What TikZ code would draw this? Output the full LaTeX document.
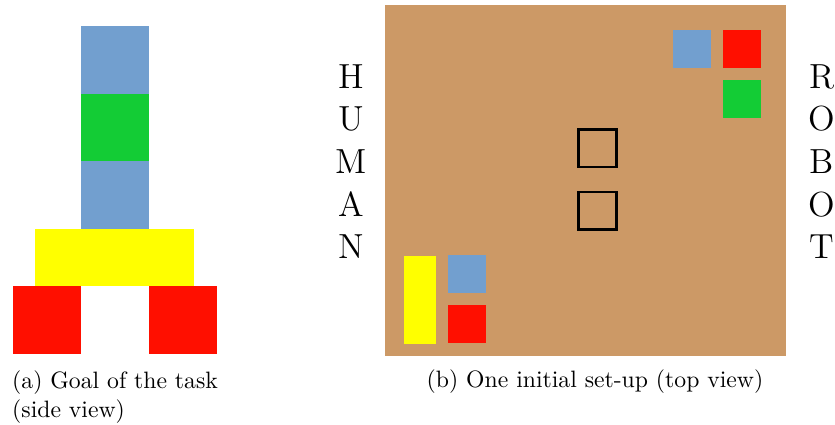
\documentclass[tikz,border=0pt]{standalone}
\begin{document}
\begin{tikzpicture}[x=1pt,y=-1pt,
  capt/.style={inner sep=0pt},
  side/.style={inner sep=0pt,anchor=base}]
\newcommand{\capscl}[1]{\scalebox{2.37}{\fontsize{10}{12}\selectfont #1}}
\newcommand{\sidescl}[1]{\scalebox{2.42}{\fontsize{14.4}{17}\selectfont #1}}
\definecolor{cblue}{RGB}{114,159,207}
\definecolor{cgreen}{RGB}{19,204,53}
\definecolor{cred}{RGB}{255,15,0}
\definecolor{cyellow}{RGB}{255,255,0}
\definecolor{cbrown}{RGB}{204,153,102}
\useasboundingbox (0,0) rectangle (835,425);
% (a) goal of the task
\fill[cblue] (81,26) rectangle (149,94);
\fill[cgreen] (81,94) rectangle (149,161);
\fill[cblue] (81,161) rectangle (149,229);
\fill[cyellow] (35,229) rectangle (194,286);
\fill[cred] (13,286) rectangle (81,354);
\fill[cred] (149,286) rectangle (217,354);
\node[capt,anchor=base west] (capa1) at (12,388) {\capscl{(a) Goal of the task}};
\node[capt,anchor=base west] (capa2) at (12,417) {\capscl{(side view)}};
% (b) initial set-up
\fill[cbrown] (385,5) rectangle (786,356);
\fill[cblue] (673,30) rectangle (711,68);
\fill[cred] (723,30) rectangle (761,68);
\fill[cgreen] (723,80) rectangle (761,118);
\draw[line width=2.2pt] (578.5,129.5) rectangle (616.5,167);
\draw[line width=2.2pt] (578.5,192) rectangle (616.5,229.5);
\fill[cyellow] (404,256) rectangle (436,344);
\fill[cblue] (448,255) rectangle (486,293);
\fill[cred] (448,305) rectangle (486,343);
\node[capt,anchor=base] (capb) at (595,387) {\capscl{(b) One initial set-up (top view)}};
% side labels
\node[side] (h1) at (351,89) {\sidescl{H}};
\node[side] (h2) at (351,131) {\sidescl{U}};
\node[side] (h3) at (351,173) {\sidescl{M}};
\node[side] (h4) at (351,216) {\sidescl{A}};
\node[side] (h5) at (351,258) {\sidescl{N}};
\node[side] (r1) at (822,89) {\sidescl{R}};
\node[side] (r2) at (822,131) {\sidescl{O}};
\node[side] (r3) at (822,173) {\sidescl{B}};
\node[side] (r4) at (822,216) {\sidescl{O}};
\node[side] (r5) at (822,258) {\sidescl{T}};
\end{tikzpicture}
\end{document}
